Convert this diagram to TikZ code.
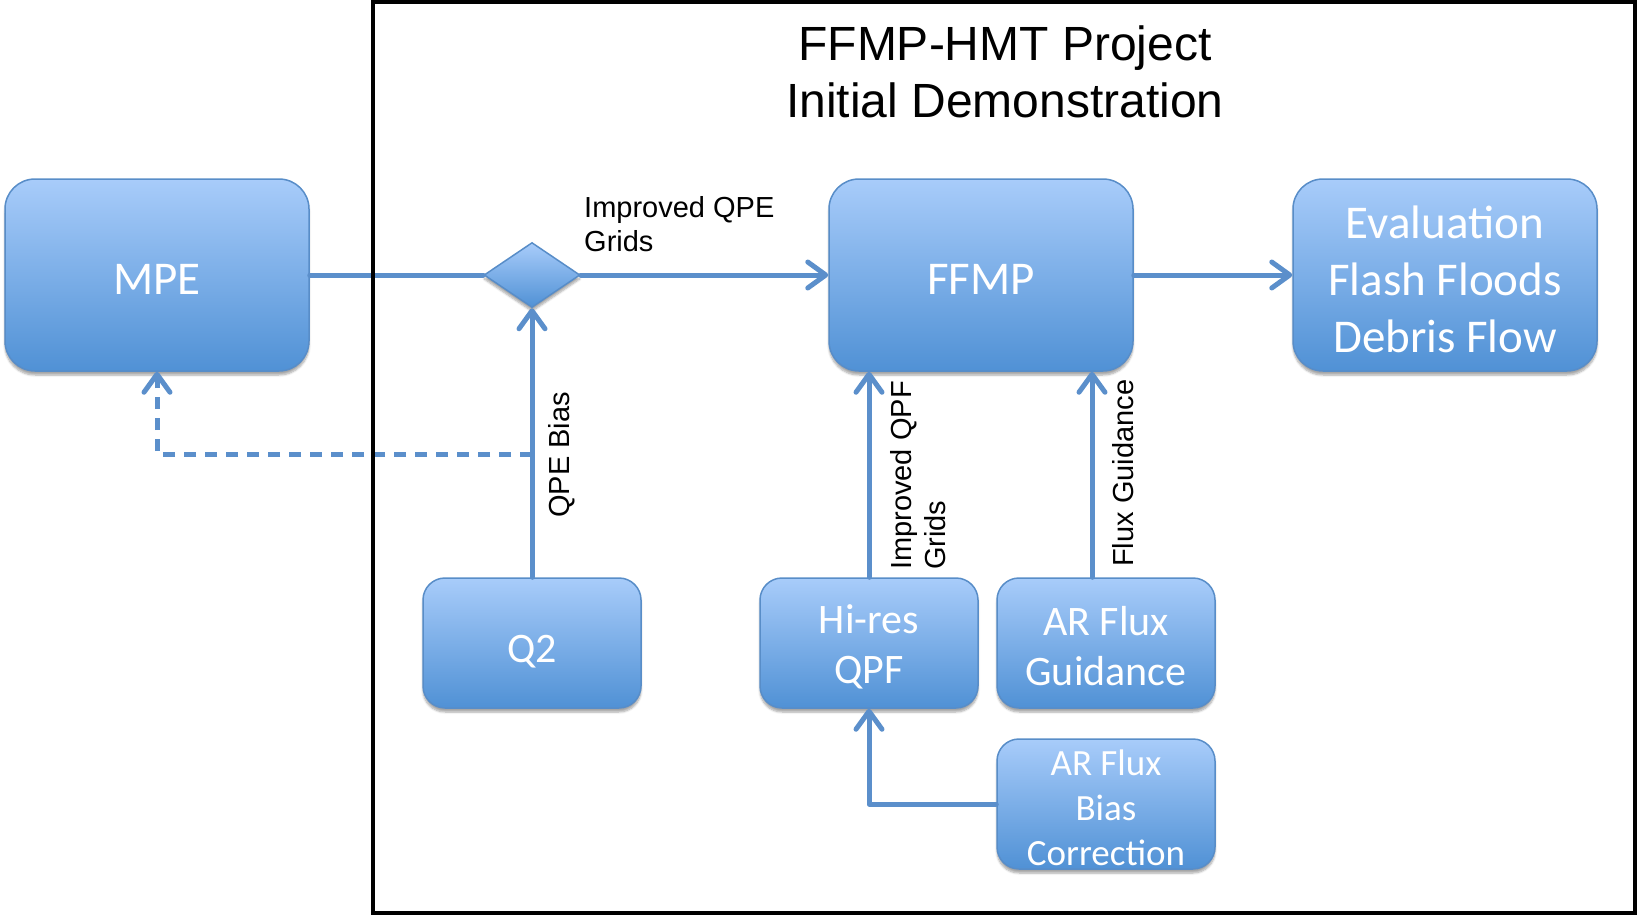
\documentclass[tikz,border=0pt]{standalone}
\usepackage{fontspec}
\setmainfont{Liberation Sans}
\newfontfamily\boxfont{Carlito}
\usetikzlibrary{arrows.meta,shapes.geometric,shadows.blur}
\definecolor{boxtop}{RGB}{168,204,250}
\definecolor{boxbot}{RGB}{80,145,213}
\definecolor{boxline}{RGB}{88,141,200}
\definecolor{conncol}{RGB}{91,143,203}
\begin{document}
\begin{tikzpicture}[x=1pt,y=-1pt,
  box/.style={draw=boxline, line width=1.5pt, top color=boxtop, bottom color=boxbot,
    inner sep=0pt,
    blur shadow={shadow xshift=0pt, shadow yshift=-4pt, shadow opacity=35, shadow blur steps=6}},
  bigbox/.style={box, rounded corners=30pt, minimum width=304pt, minimum height=192pt},
  smallbox/.style={box, rounded corners=22pt, minimum width=218pt, minimum height=130pt},
  boxtext/.style={text=white, align=center, inner sep=0pt},
  bigtext/.style={boxtext, font=\boxfont\fontsize{47}{57}\selectfont},
  smalltext/.style={boxtext, font=\boxfont\fontsize{42}{50}\selectfont},
  conn/.style={draw=conncol, line width=5pt, line cap=round, line join=round},
  arr/.style={conn, -{Straight Barb[length=18pt,width=26pt,line cap=round,line join=round]}},
  lbl/.style={font=\fontsize{29}{34}\selectfont, inner sep=0pt, align=left},
]
\useasboundingbox (0,0) rectangle (1639,916);

% boxes
\node[bigbox] (mpe) at (157,275) {};
\node[bigbox] (ffmp) at (981,275) {};
\node[bigbox] (eval) at (1445,275) {};
\node[box, diamond, minimum width=96pt, minimum height=65pt] (dia) at (532,275) {};
\node[smallbox] (q2) at (532,643) {};
\node[smallbox] (hires) at (869,643) {};
\node[smallbox] (arg) at (1106,643) {};
\node[smallbox] (arb) at (1106,804) {};

% box texts
\node[bigtext] (tmpe) at ([yshift=-4pt]mpe.center) {MPE};
\node[bigtext] (tffmp) at ([yshift=-4pt]ffmp.center) {FFMP};
\node[bigtext] (teval) at ([yshift=-4pt]eval.center) {Evaluation\\Flash Floods\\Debris Flow};
\node[smalltext] (tq2) at ([yshift=-9pt]q2.center) {Q2};
\node[smalltext] (thires) at ([yshift=-4pt]hires.center) {Hi-res\\QPF};
\node[smalltext] (targ) at ([yshift=-3pt]arg.center) {AR Flux\\Guidance};
\node[boxtext, font=\boxfont\fontsize{37}{45}\selectfont] (tarb) at ([yshift=-4pt]arb.center) {AR Flux\\Bias\\Correction};

% connectors
\coordinate (dash) at (532,454);
\draw[conn] (mpe.east) -- (dia.west);
\draw[arr] (dia.east) -- (ffmp.west);
\draw[arr] (ffmp.east) -- (eval.west);
\draw[arr] (q2.north) -- (dia.south);
\draw[arr, dash pattern=on 12pt off 9pt, line cap=butt] (dash) -| (mpe.south);
\draw[arr] (hires.north) -- (hires.north |- ffmp.south);
\draw[arr] ([xshift=-14pt]arg.north) -- ([xshift=-14pt]arg.north |- ffmp.south);
\draw[arr] (arb.west) -| (hires.south);

% labels
\node[lbl, anchor=north west] (lqpe) at (584,196) {Improved QPE\\Grids};
\node[lbl, rotate=90, anchor=north west] (lbias) at (548,518) {QPE Bias};
\node[lbl, rotate=90, anchor=north west] (lqpf) at (890,570) {Improved QPF\\Grids};
\node[lbl, rotate=90, anchor=north west] (lflux) at (1112,567) {Flux Guidance};

% frame and title
\draw[line width=4pt] (373,2) rectangle (1635,913);
\node[font=\fontsize{48}{57.5}\selectfont, align=center] (title) at (1005,72) {FFMP-HMT Project\\Initial Demonstration};
\end{tikzpicture}
\end{document}
